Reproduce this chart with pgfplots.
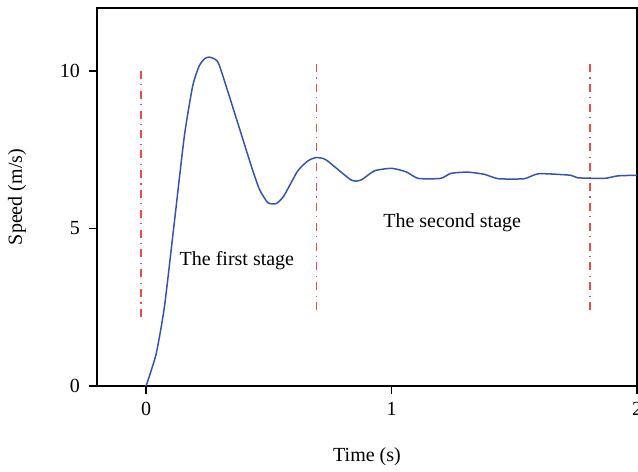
\documentclass[border=0pt]{standalone}
\usepackage{fontspec}
\setmainfont{Liberation Serif}
\usepackage{pgfplots}
\pgfplotsset{compat=1.18}

\definecolor{speedblue}{RGB}{52,84,178}
\definecolor{stagered}{RGB}{232,76,66}

\begin{document}
\begin{tikzpicture}
\useasboundingbox (-58.2pt,-51.6pt) rectangle (324.6pt,231.6pt);
\begin{axis}[
  at={(0pt,0pt)}, anchor=south west,
  scale only axis, width=324pt, height=226.8pt,
  xmin=-0.2, xmax=2, ymin=0, ymax=12,
  xtick={0,1,2}, ytick={0,5,10},
  tick align=outside, tick pos=left,
  major tick length=4.8pt,
  axis line style={line width=0.8pt},
  every tick/.style={black, line width=0.8pt},
  font=\fontsize{12}{14}\selectfont,
  /pgf/number format/assume math mode=true,
  xticklabel style={yshift=-1.5pt},
  yticklabel style={xshift=-2pt},
  xlabel={Time (s)}, ylabel={Speed (m/s)},
  xlabel style={at={(axis description cs:0.5,0)}, anchor=center, yshift=-42.6pt},
  ylabel style={at={(axis description cs:0,0.5)}, anchor=center, yshift=48pt},
]
% stage boundaries
\addplot[stagered, line width=1.1pt, dash pattern=on 4.8pt off 3.2pt on 0.7pt off 3.2pt]
  coordinates {(-0.022,10.0) (-0.022,2.1)};
\addplot[stagered, line width=1.1pt, dash pattern=on 4.8pt off 3.2pt on 0.7pt off 3.2pt]
  coordinates {(0.694,10.22) (0.694,2.32)};
\addplot[stagered, line width=1.1pt, dash pattern=on 4.8pt off 3.2pt on 0.7pt off 3.2pt]
  coordinates {(1.808,10.22) (1.808,2.32)};
% measured speed
\addplot[speedblue, line width=0.9pt, smooth, tension=0.35] coordinates {
  (0,0) (0.041,1.02) (0.075,2.53) (0.115,5.19) (0.156,7.94) (0.19,9.53)
  (0.217,10.17) (0.24,10.40) (0.258,10.44) (0.279,10.38) (0.299,10.17)
  (0.373,8.36) (0.43,6.95) (0.462,6.24) (0.496,5.82) (0.53,5.79) (0.561,6.03)
  (0.618,6.83) (0.66,7.15) (0.692,7.25) (0.733,7.18) (0.835,6.54) (0.876,6.54)
  (0.93,6.83) (1.0,6.91) (1.059,6.8) (1.109,6.59) (1.2,6.59) (1.242,6.75)
  (1.31,6.79) (1.378,6.72) (1.435,6.58) (1.54,6.58) (1.60,6.74) (1.73,6.69)
  (1.758,6.61) (1.866,6.59) (1.921,6.67) (2.0,6.69)
};
\node[anchor=center] at (axis cs:0.37,3.98) {The first stage};
\node[anchor=center] at (axis cs:1.247,5.19) {The second stage};
\end{axis}
\end{tikzpicture}
\end{document}
